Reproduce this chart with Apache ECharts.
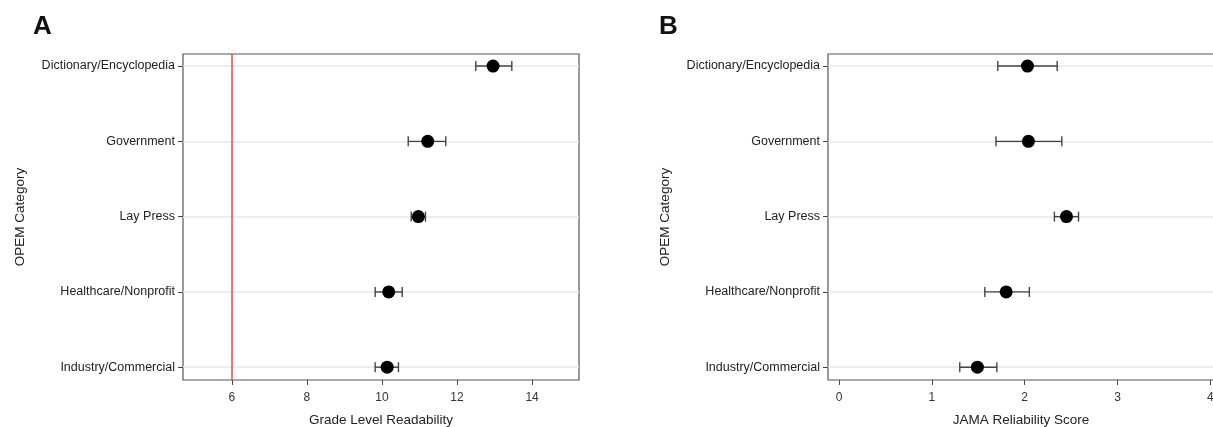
<!DOCTYPE html>
<html>
<head>
<meta charset="utf-8">
<script src="https://cdn.jsdelivr.net/npm/echarts@6/dist/echarts.min.js"></script>
<style>
  html, body { margin: 0; padding: 0; background: #fff; }
  #chart { width: 1213px; height: 427px; }
</style>
</head>
<body>
<div id="chart"></div>
<script>
// categories, top to bottom
var categories = ['Dictionary/Encyclopedia', 'Government', 'Lay Press', 'Healthcare/Nonprofit', 'Industry/Commercial']

// panel A - grade level readability (mean, lower, upper)
var gradeMean = [12.96, 11.22, 10.97, 10.18, 10.14]
var gradeLow = [12.50, 10.70, 10.78, 9.82, 9.82]
var gradeHigh = [13.46, 11.70, 11.16, 10.54, 10.44]
var gradeTicks = [6, 8, 10, 12, 14]
var gradeTarget = 6

// panel B - JAMA reliability score (mean, lower, upper)
var jamaMean = [2.03, 2.04, 2.45, 1.80, 1.49]
var jamaLow = [1.71, 1.69, 2.32, 1.57, 1.30]
var jamaHigh = [2.35, 2.40, 2.58, 2.05, 1.70]
var jamaTicks = [0, 1, 2, 3, 4]

var font = 'Liberation Sans, Arial, sans-serif'
var catIdx = categories.map(function (c, i) { return i })

var chart = echarts.init(document.getElementById('chart'))

function xAxisFor(gi, name, min, max, ticks) {
  return {
    gridIndex: gi,
    type: 'value',
    min: min,
    max: max,
    name: name,
    nameLocation: 'middle',
    nameGap: 33,
    nameTextStyle: { fontFamily: font, fontSize: 13.5, color: '#222' },
    axisLine: { show: false, onZero: false },
    axisTick: { show: true, length: 5, customValues: ticks, lineStyle: { color: '#444' } },
    axisLabel: { customValues: ticks, margin: 12, fontFamily: font, fontSize: 12, color: '#333' },
    splitLine: { show: false }
  }
}

function yAxisFor(gi) {
  return {
    gridIndex: gi,
    type: 'value',
    inverse: true,
    min: -0.16,
    max: 4.17,
    name: 'OPEM Category',
    nameLocation: 'middle',
    nameRotate: 90,
    nameGap: 156,
    nameTextStyle: { fontFamily: font, fontSize: 13.5, color: '#222' },
    axisLine: { show: false, onZero: false },
    axisTick: { show: true, length: 5, customValues: catIdx, lineStyle: { color: '#444' } },
    axisLabel: {
      customValues: catIdx,
      margin: 8,
      fontFamily: font,
      fontSize: 12.5,
      color: '#222',
      formatter: function (v) { return categories[Math.round(v)] }
    },
    splitLine: { show: false }
  }
}

function errData(low, high) {
  return catIdx.map(function (i) { return [low[i], high[i], i] })
}

function pointData(mean) {
  return catIdx.map(function (i) { return [mean[i], i] })
}

function renderErr(params, api) {
  var p1 = api.coord([api.value(0), api.value(2)])
  var p2 = api.coord([api.value(1), api.value(2)])
  var cap = 5
  var style = { stroke: '#444', lineWidth: 1.4 }
  return {
    type: 'group',
    children: [
      { type: 'line', shape: { x1: p1[0], y1: p1[1], x2: p2[0], y2: p2[1] }, style: style },
      { type: 'line', shape: { x1: p1[0], y1: p1[1] - cap, x2: p1[0], y2: p1[1] + cap }, style: style },
      { type: 'line', shape: { x1: p2[0], y1: p2[1] - cap, x2: p2[0], y2: p2[1] + cap }, style: style }
    ]
  }
}

var gridLines = catIdx.map(function (i) { return { yAxis: i } })

var option = {
  animation: false,
  backgroundColor: '#fff',
  title: [
    { text: 'A', left: 28, top: 9, textStyle: { fontFamily: font, fontSize: 26, fontWeight: 'bold', color: '#111' } },
    { text: 'B', left: 654, top: 9, textStyle: { fontFamily: font, fontSize: 26, fontWeight: 'bold', color: '#111' } }
  ],
  grid: [
    { left: 183, top: 54, width: 396, height: 326, outerBoundsMode: 'none', show: true, borderColor: '#555', borderWidth: 1.2, backgroundColor: 'transparent' },
    { left: 828, top: 54, width: 386, height: 326, outerBoundsMode: 'none', show: true, borderColor: '#555', borderWidth: 1.2, backgroundColor: 'transparent' }
  ],
  xAxis: [
    xAxisFor(0, 'Grade Level Readability', 4.7, 15.25, gradeTicks),
    xAxisFor(1, 'JAMA Reliability Score', -0.12, 4.04, jamaTicks)
  ],
  yAxis: [yAxisFor(0), yAxisFor(1)],
  series: [
    {
      type: 'custom',
      xAxisIndex: 0, yAxisIndex: 0,
      renderItem: renderErr,
      data: errData(gradeLow, gradeHigh),
      z: 3,
      markLine: {
        silent: true, symbol: 'none', label: { show: false }, z: 1,
        lineStyle: { color: '#e6e6e6', width: 1.5, type: 'solid' },
        data: gridLines.concat([{ xAxis: gradeTarget, lineStyle: { color: '#e8474a', width: 1.5 } }])
      }
    },
    {
      type: 'scatter',
      xAxisIndex: 0, yAxisIndex: 0,
      symbolSize: 13,
      itemStyle: { color: '#000', opacity: 1 },
      data: pointData(gradeMean),
      z: 4
    },
    {
      type: 'custom',
      xAxisIndex: 1, yAxisIndex: 1,
      renderItem: renderErr,
      data: errData(jamaLow, jamaHigh),
      z: 3,
      markLine: {
        silent: true, symbol: 'none', label: { show: false }, z: 1,
        lineStyle: { color: '#e6e6e6', width: 1.5, type: 'solid' },
        data: gridLines
      }
    },
    {
      type: 'scatter',
      xAxisIndex: 1, yAxisIndex: 1,
      symbolSize: 13,
      itemStyle: { color: '#000', opacity: 1 },
      data: pointData(jamaMean),
      z: 4
    }
  ]
}

chart.setOption(option)
</script>
</body>
</html>
